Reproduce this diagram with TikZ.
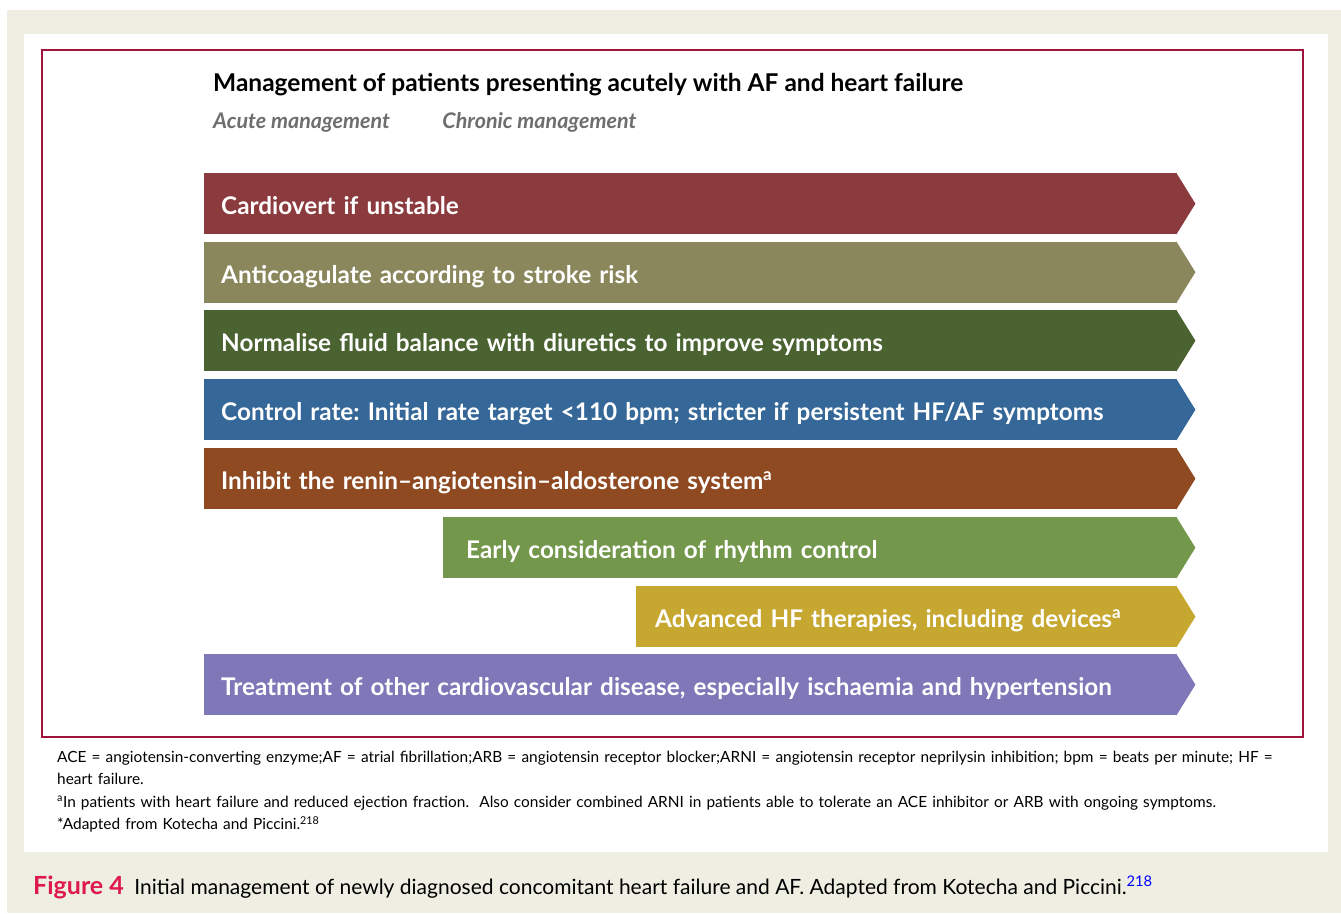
\documentclass[tikz,border=0pt]{standalone}
\usepackage{fontspec}
\setmainfont{Lato}
\usetikzlibrary{positioning}
\frenchspacing
\definecolor{paper}{RGB}{239,238,227}
\definecolor{frameRed}{RGB}{160,20,60}
\definecolor{figRed}{RGB}{222,26,76}
\definecolor{subGrey}{RGB}{110,110,112}
\definecolor{cardioRed}{RGB}{139,58,62}
\definecolor{anticoagOlive}{RGB}{138,135,92}
\definecolor{fluidGreen}{RGB}{74,99,48}
\definecolor{rateBlue}{RGB}{53,104,152}
\definecolor{raasBrown}{RGB}{143,74,34}
\definecolor{rhythmGreen}{RGB}{115,151,75}
\definecolor{deviceGold}{RGB}{198,167,48}
\definecolor{otherViolet}{RGB}{126,120,184}

\begin{document}
\begin{tikzpicture}
    [x=1pt,y=-1pt,
    bar/.style={
      rectangle,
      anchor=north west,
      minimum height=61pt,
      inner xsep=17pt,
      inner ysep=0pt,
      text height=22pt,
      text depth=0pt,
      align=left,
      text=white,
      font=\bfseries\fontsize{24.3}{28}\selectfont
    },
    title/.style={
      anchor=base west,
      inner sep=0pt,
      font=\bfseries\fontsize{24.5}{28}\selectfont
    },
    sub/.style={
      anchor=base west,
      inner sep=0pt,
      text=subGrey,
      font=\bfseries\itshape\fontsize{21.5}{25}\selectfont
    },
    note/.style={
      anchor=north west,
      inner sep=0pt,
      text width=1270pt,
      align=left,
      font=\fontsize{15.4}{22.3}\selectfont
    }
  ]
    \useasboundingbox (0,0) rectangle (1341,913);
    \fill[paper] (7,10) rectangle (1341,913);
    \fill[white] (24,34) rectangle (1328,852);
    \draw[frameRed, line width=1.2pt] (42,50) rectangle (1303,737);
    \draw (213,91) node[title] (title) {Management of patients presenting acutely with AF and heart failure};
    \draw (213,128) node[sub] (acute) {Acute management};
    \node[sub] (chronic) at ([xshift=52pt]acute.base east) {Chronic management};
    \path (204,173) node[bar, fill=cardioRed, text width=939pt] (cardiovert) {Cardiovert if unstable}
          (204,241.5) node[bar, fill=anticoagOlive, text width=939pt] (anticoag) {Anticoagulate according to stroke risk}
          (204,310) node[bar, fill=fluidGreen, text width=939pt] (fluid) {Normalise fluid balance with diuretics to improve symptoms}
          (204,379) node[bar, fill=rateBlue, text width=939pt] (rate) {Control rate: Initial rate target <110 bpm; stricter if persistent HF/AF symptoms}
          (204,448) node[bar, fill=raasBrown, text width=939pt] (raas) {Inhibit the renin--angiotensin--aldosterone system\textsuperscript{a}}
          (443,517) node[bar, fill=rhythmGreen, inner xsep=23pt, text width=688pt] (rhythm) {Early consideration of rhythm control}
          (636,586) node[bar, fill=deviceGold, inner xsep=19pt, text width=503pt] (devices) {Advanced HF therapies, including devices\textsuperscript{a}}
          (204,654) node[bar, fill=otherViolet, text width=939pt] (other) {Treatment of other cardiovascular disease, especially ischaemia and hypertension};
    \fill[cardioRed] ([xshift=-1pt]cardiovert.north east) -- ([xshift=18pt]cardiovert.east) -- ([xshift=-1pt]cardiovert.south east) -- cycle;
    \fill[anticoagOlive] ([xshift=-1pt]anticoag.north east) -- ([xshift=18pt]anticoag.east) -- ([xshift=-1pt]anticoag.south east) -- cycle;
    \fill[fluidGreen] ([xshift=-1pt]fluid.north east) -- ([xshift=18pt]fluid.east) -- ([xshift=-1pt]fluid.south east) -- cycle;
    \fill[rateBlue] ([xshift=-1pt]rate.north east) -- ([xshift=18pt]rate.east) -- ([xshift=-1pt]rate.south east) -- cycle;
    \fill[raasBrown] ([xshift=-1pt]raas.north east) -- ([xshift=18pt]raas.east) -- ([xshift=-1pt]raas.south east) -- cycle;
    \fill[rhythmGreen] ([xshift=-1pt]rhythm.north east) -- ([xshift=18pt]rhythm.east) -- ([xshift=-1pt]rhythm.south east) -- cycle;
    \fill[deviceGold] ([xshift=-1pt]devices.north east) -- ([xshift=18pt]devices.east) -- ([xshift=-1pt]devices.south east) -- cycle;
    \fill[otherViolet] ([xshift=-1pt]other.north east) -- ([xshift=18pt]other.east) -- ([xshift=-1pt]other.south east) -- cycle;
    \draw (57,751) node[note] (abbrev) {ACE = angiotensin-converting enzyme;AF = atrial fibrillation;ARB = angiotensin receptor blocker;ARNI = angiotensin receptor neprilysin inhibition; bpm = beats per minute; HF =\\heart failure.\\\textsuperscript{a}In patients with heart failure and reduced ejection fraction.\ \ Also consider combined ARNI in patients able to tolerate an ACE inhibitor or ARB with ongoing symptoms.\\{}*Adapted from Kotecha and Piccini.\textsuperscript{218}};
    \draw (33,894) node[anchor=base west, inner sep=0pt, font=\fontsize{21}{24}\selectfont] (caption) {{\color{figRed}\bfseries\fontsize{25}{28}\selectfont Figure 4}\enspace Initial management of newly diagnosed concomitant heart failure and AF. Adapted from Kotecha and Piccini.\textsuperscript{\color{blue}218}};
\end{tikzpicture}
\end{document}
